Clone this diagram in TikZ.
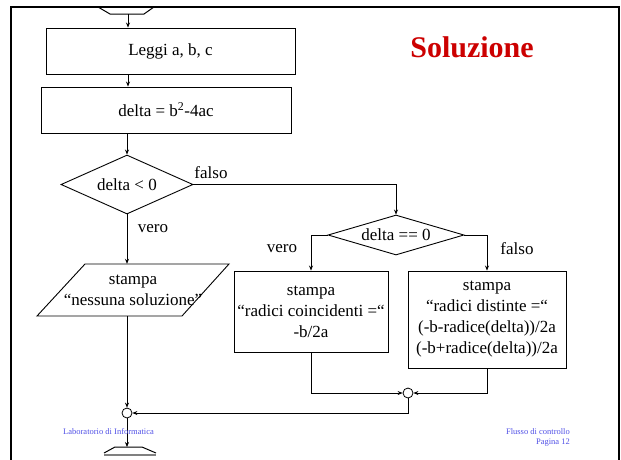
\documentclass[tikz,border=0pt]{standalone}
\usepackage{fontspec}
\setmainfont{Liberation Serif}
\usetikzlibrary{shapes.geometric,arrows.meta}
\definecolor{solred}{RGB}{204,0,0}
\definecolor{footblue}{RGB}{80,80,230}
\begin{document}
\begin{tikzpicture}[x=1pt,y=-1pt,
  txt/.style={font=\fontsize{17}{21}\selectfont},
  box/.style={draw,line width=0.9pt,inner sep=0pt,txt,align=center},
  dec/.style={draw,diamond,line width=0.9pt,inner sep=0pt,txt},
  lbl/.style={txt,inner sep=0pt},
  arr/.style={-{Stealth[length=5pt,width=4pt]},line width=0.7pt},
  ln/.style={line width=0.7pt},
  jn/.style={circle,draw,line width=0.8pt,minimum size=10pt,inner sep=0pt},
  foot/.style={font=\fontsize{8.5}{10.5}\selectfont,text=footblue,inner sep=0pt}]
\useasboundingbox (0,0) rectangle (621,459);
\begin{scope}
\clip (0,0) rectangle (621,459);
\draw[line width=2.5pt] (11,470) -- (11,7) -- (619,7) -- (619,470);
\end{scope}
% top terminal (partial)
\draw[line width=1pt] (98,7) -- (110,14) -- (144,14) -- (154,7);
\coordinate (top) at (128,14);
% title
\node[font=\fontsize{30}{34}\selectfont\bfseries,text=solred,inner sep=0pt] (title) at (472,47) {Soluzione};
% boxes
\node[box,minimum width=249pt,minimum height=46pt] (leggi) at (170.5,51) {Leggi a, b, c};
\node[box,minimum width=250pt,minimum height=46pt] (delta) at (166,110) {delta = b\textsuperscript{2}-4ac};
\node[dec,aspect=2.24,minimum width=132pt,minimum height=59pt] (d1) at (127,184.5) {delta < 0};
\node[dec,aspect=3.6,minimum width=136pt,minimum height=40pt] (d2) at (396,235) {delta == 0};
% parallelogram
\draw[line width=0.9pt] (37,316) -- (85,264) -- (229,264) -- (182,316) -- cycle;
\node[txt,align=center,inner sep=0pt,minimum width=144pt,minimum height=52pt] (par) at (133,290) {stampa\\“nessuna soluzione”};
\node[box,minimum width=154pt,minimum height=81pt] (b1) at (311,311.5) {stampa\\“radici coincidenti =“\\-b/2a};
\node[box,minimum width=158pt,minimum height=97pt] (b2) at (487,319.5) {stampa\\“radici distinte =“\\(-b-radice(delta))/2a\\(-b+radice(delta))/2a};
% junctions
\node[jn] (j2) at (408,393) {};
\node[jn] (j1) at (127,413) {};
% bottom terminal (partial)
\draw[line width=1pt] (104,453) -- (115,447) -- (142,447) -- (156,453);
\draw[gray,line width=2pt] (104,454.5) -- (156,454.5);
\coordinate (bot) at (127,447);
% labels
\node[lbl] (f1) at (211,173) {falso};
\node[lbl] (v1) at (153,229) {vero};
\node[lbl] (v2) at (282,249) {vero};
\node[lbl] (f2) at (517,249) {falso};
% connectors
\draw[arr] (top) -- (leggi.north -| top);
\draw[arr] (leggi.south -| top) -- (delta.north -| top);
\draw[arr] (delta.south -| d1.north) -- (d1.north);
\draw[arr] (d1.south) -- (par.north -| d1.south);
\draw[arr] (d1.east) -- (d1.east -| d2.north) -- (d2.north);
\draw[arr] (d2.west) -- (d2.west -| b1.north) -- (b1.north);
\draw[arr] (d2.east) -- (d2.east -| b2.north) -- (b2.north);
\draw[arr] (b1.south) -- (b1.south |- j2.west) -- (j2.west);
\draw[arr] (b2.south) -- (b2.south |- j2.east) -- (j2.east);
\draw[arr] (j2.south) -- (j2.south |- j1.east) -- (j1.east);
\draw[arr] (par.south -| j1.north) -- (j1.north);
\draw[arr] (j1.south) -- (bot);
% footer
\node[foot,anchor=west] (lab) at (63,432) {Laboratorio di Informatica};
\node[foot,anchor=east] (fl) at (570,432) {Flusso di controllo};
\node[foot,anchor=east] (pg) at (570,443) {Pagina 12};
\end{tikzpicture}
\end{document}
